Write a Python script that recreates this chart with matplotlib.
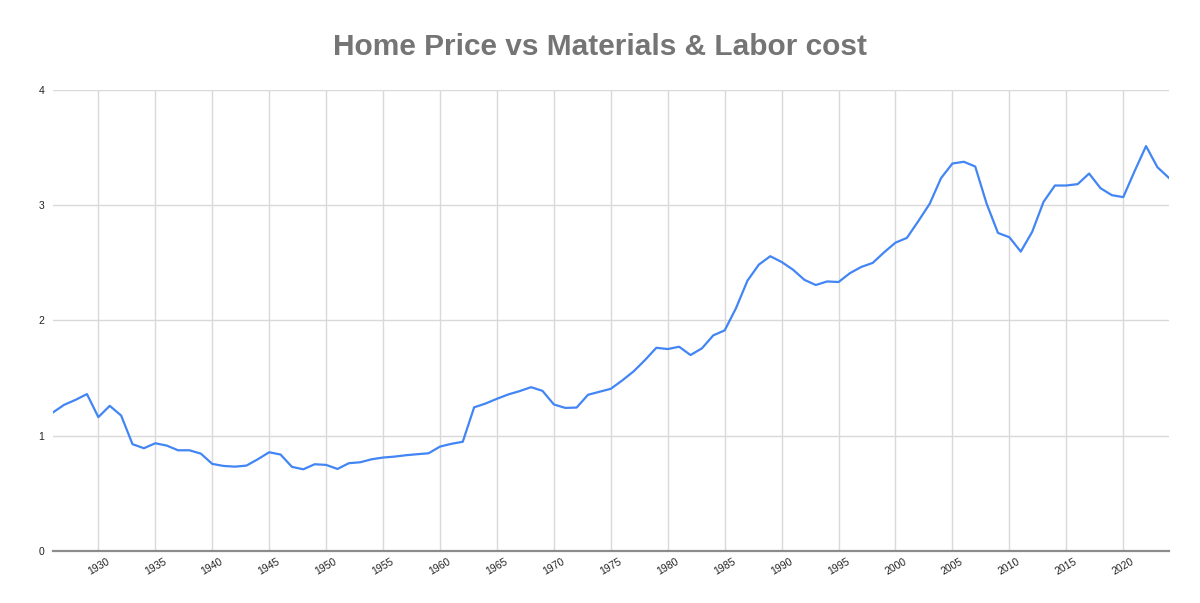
import matplotlib
matplotlib.use("Agg")
import matplotlib.pyplot as plt
from matplotlib.transforms import ScaledTranslation

plt.rcParams['font.family'] = ['Liberation Sans', 'DejaVu Sans']

# ratio per year
years = list(range(1926, 2025))
ratio = [
    1.20, 1.267, 1.31, 1.36, 1.16, 1.258, 1.174, 0.925, 0.89, 0.933,
    0.913, 0.872, 0.872, 0.843, 0.754, 0.736, 0.73, 0.739, 0.794, 0.855,
    0.835, 0.728, 0.707, 0.751, 0.745, 0.71, 0.76, 0.768, 0.794, 0.809,
    0.817, 0.829, 0.838, 0.846, 0.904, 0.928, 0.946, 1.245, 1.278, 1.319,
    1.357, 1.386, 1.42, 1.388, 1.27, 1.24, 1.243, 1.354, 1.38, 1.406,
    1.478, 1.557, 1.655, 1.762, 1.751, 1.771, 1.699, 1.757, 1.87, 1.913,
    2.107, 2.345, 2.484, 2.557, 2.507, 2.44, 2.352, 2.307, 2.338, 2.333,
    2.41, 2.464, 2.499, 2.591, 2.675, 2.716, 2.861, 3.012, 3.235, 3.362,
    3.377, 3.336, 3.014, 2.759, 2.722, 2.597, 2.768, 3.029, 3.171, 3.171,
    3.183, 3.275, 3.148, 3.087, 3.07, 3.296, 3.513, 3.33, 3.238,
]
xticks = list(range(1930, 2021, 5))
yticks = [0, 1, 2, 3, 4]

fig = plt.figure(figsize=(12, 6.03), dpi=100)
ax = fig.add_axes([0.044, 0.0867, 0.93, 0.764])

ax.plot(years, ratio, color='#4285f4', linewidth=1.6)

ax.set_xlim(1926, 2024)
ax.set_ylim(0, 4)
ax.set_xticks(xticks)
ax.set_xticklabels([str(y) for y in xticks], rotation=30, ha='center',
                   fontsize=7.5, color='#222222')
# nudge the rotated labels a little left, like the original
shift = ScaledTranslation(-4 / 100, 0, fig.dpi_scale_trans)
for lbl in ax.get_xticklabels():
    lbl.set_transform(lbl.get_transform() + shift)
ax.set_yticks(yticks)
ax.set_yticklabels([str(v) for v in yticks], fontsize=7.5, color='#222222')
ax.tick_params(length=0, pad=6)
ax.tick_params(axis='x', pad=4)

ax.grid(True, color='#d9d9d9', linewidth=1)
ax.set_axisbelow(True)
for side in ['top', 'right', 'left']:
    ax.spines[side].set_visible(False)
ax.spines['bottom'].set_color('#8c8c8c')
ax.spines['bottom'].set_linewidth(1.6)

fig.text(0.5, 0.922, "Home Price vs Materials & Labor cost", ha='center', va='center',
         fontsize=21.5, fontweight='bold', color='#757575')

fig.savefig('out.png', dpi=100)
